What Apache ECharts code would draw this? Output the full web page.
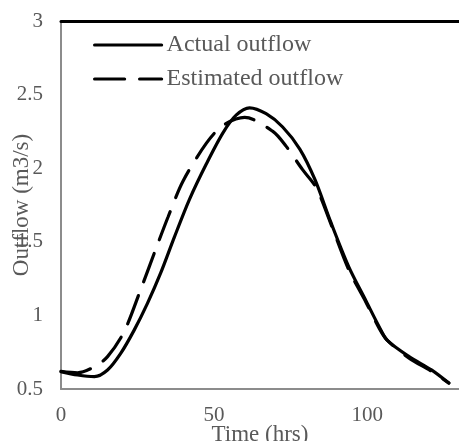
<!DOCTYPE html>
<html><head><meta charset="utf-8">
<script src="https://cdn.jsdelivr.net/npm/echarts@6/dist/echarts.min.js"></script>
<style>html,body{margin:0;padding:0;background:#fff}#c{width:459px;height:441px}</style>
</head><body><div id="c"></div>
<script>
var actualTime = [0, 5.4, 10.9, 15.2, 19.5, 23.9, 28.2, 32.6, 37, 42, 47.5, 52.9, 57.2, 61.6, 67, 72.4, 78, 83, 88, 94, 99.6, 104, 106.6, 113.7, 121, 126.7];
var actualFlow = [0.618, 0.595, 0.584, 0.629, 0.742, 0.90, 1.08, 1.29, 1.53, 1.79, 2.03, 2.24, 2.36, 2.41, 2.37, 2.28, 2.13, 1.92, 1.64, 1.33, 1.10, 0.92, 0.83, 0.72, 0.63, 0.54];
var estTime = [0, 5.4, 10.9, 15.2, 20.6, 26.1, 31.5, 35, 39.8, 47.5, 52.9, 60, 69.2, 73.5, 78.9, 83.3, 88, 94, 99.6, 104, 106.6, 113.7, 121, 126.7];
var estFlow = [0.62, 0.61, 0.651, 0.72, 0.889, 1.18, 1.48, 1.67, 1.91, 2.17, 2.29, 2.345, 2.25, 2.15, 1.99, 1.87, 1.63, 1.31, 1.09, 0.91, 0.83, 0.71, 0.62, 0.54];
var seriesNames = ['Actual outflow', 'Estimated outflow'];

function pairs(t, v) { return t.map(function (x, i) { return [x, v[i]]; }); }
var font = 'Liberation Serif';
var grey = '#595959';
var chart = echarts.init(document.getElementById('c'));
chart.setOption({
  animation: false,
  grid: { left: 61, top: 21, right: 0, bottom: 52, containLabel: false, outerBoundsMode: 'none' },
  legend: {
    orient: 'vertical', left: 88, top: 28, itemWidth: 67, itemHeight: 14, itemGap: 10,
    itemStyle: { opacity: 0 },
    lineStyle: { width: 3.2, color: '#000', cap: 'round' },
    textStyle: { fontFamily: font, fontSize: 24, color: grey, lineHeight: 24 },
    data: seriesNames
  },
  xAxis: [{
    type: 'value', min: 0, max: 130, interval: 50,
    name: 'Time (hrs)', nameLocation: 'middle', nameGap: 34, nameMoveOverlap: false,
    nameTextStyle: { fontFamily: font, fontSize: 23, color: grey },
    axisLine: { show: true, onZero: false, lineStyle: { color: '#8c8c8c', width: 2 } },
    axisTick: { show: false },
    splitLine: { show: false },
    axisLabel: { margin: 16, fontFamily: font, fontSize: 21, color: grey, showMaxLabel: false }
  }, {
    type: 'value', min: 0, max: 130, position: 'top',
    axisLine: { show: true, lineStyle: { color: '#000', width: 3 } },
    axisTick: { show: false }, axisLabel: { show: false }, splitLine: { show: false }
  }],
  yAxis: {
    type: 'value', min: 0.5, max: 3, interval: 0.5,
    name: 'Outflow (m3/s)', nameLocation: 'middle', nameGap: 28, nameMoveOverlap: false,
    nameTextStyle: { fontFamily: font, fontSize: 23, color: grey, backgroundColor: '#fff' },
    axisLine: { show: true, lineStyle: { color: '#8c8c8c', width: 2 } },
    axisTick: { show: false },
    splitLine: { show: false },
    axisLabel: { margin: 18, fontFamily: font, fontSize: 21, color: grey }
  },
  series: [{
    name: seriesNames[0], type: 'line', smooth: 0.3, symbol: 'none',
    lineStyle: { color: '#000', width: 3.2, cap: 'round' },
    itemStyle: { color: '#000' },
    data: pairs(actualTime, actualFlow), z: 3
  }, {
    name: seriesNames[1], type: 'line', smooth: 0.3, symbol: 'none',
    lineStyle: { color: '#000', width: 3.2, type: [30, 15], cap: 'round' },
    itemStyle: { color: '#000' },
    data: pairs(estTime, estFlow), z: 2
  }]
});
</script></body></html>
